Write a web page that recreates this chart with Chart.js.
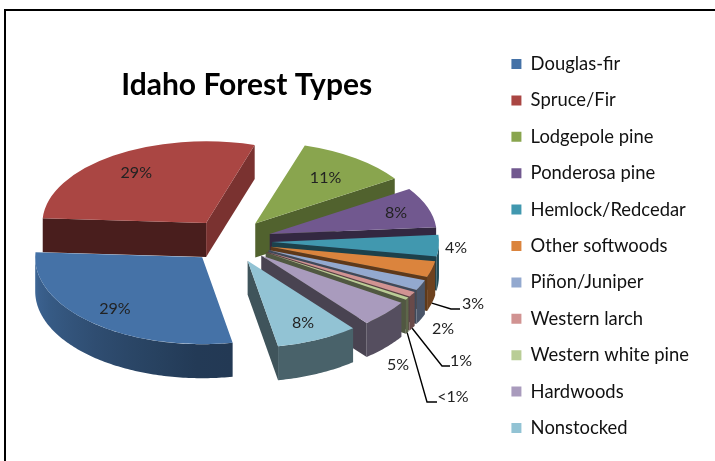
<!DOCTYPE html>
<html>
<head>
<meta charset="utf-8">
<title>Idaho Forest Types</title>
<script src="https://cdn.jsdelivr.net/npm/chart.js@4"></script>
<style>
    html, body { margin: 0; padding: 0; background: #fff; overflow: hidden; }
    #wrap { position: relative; width: 715px; height: 461px; }
    #frame { position: absolute; left: 4px; top: 9px; right: 0; bottom: 0; border-left: 2px solid #000; border-top: 2px solid #000; }
    canvas { position: absolute; left: 0; top: 0; }
</style>
</head>
<body>
<div id="wrap">
    <div id="frame"></div>
    <canvas id="pieChart" width="715" height="461"></canvas>
</div>
<script>
// Chart data
const forestTypes = ['Douglas-fir', 'Spruce/Fir', 'Lodgepole pine', 'Ponderosa pine', 'Hemlock/Redcedar', 'Other softwoods', 'Piñon/Juniper', 'Western larch', 'Western white pine', 'Hardwoods', 'Nonstocked'];
const percentages = [29, 29, 11, 8, 4, 3, 2, 1, 0.5, 5, 8];
const percentLabels = ['29%', '29%', '11%', '8%', '4%', '3%', '2%', '1%', '<1%', '5%', '8%'];
const sliceColors = ['#4572A7', '#AA4643', '#89A54E', '#71588F', '#4198AF', '#DB843D', '#93A9CF', '#D19392', '#B9CD96', '#A99BBD', '#92C3D4'];

// Look of the 3D pie
const view = { x: 230, y: 241, squash: 0.52, backSquash: 0.49, backWidth: 0.98, depth: 34, explode: 42 };
const labelFont = '16px Lato';

// Where each data label goes: f = fraction of radius inside the slice, or a fixed spot outside
const labelSpots = [
    { f: 0.79 }, { f: 0.75 }, { f: 0.70 }, { f: 0.80 },
    { x: 456, y: 248 }, { x: 473, y: 304 }, { x: 443, y: 329 }, { x: 461, y: 361 },
    { x: 453, y: 397 }, { x: 398, y: 365 }, { f: 0.79 }
];
// Leader lines: slice index, elbow, end
const leaders = [
    { slice: 5, elbow: [451, 309], end: [460, 309] },
    { slice: 7, elbow: [442, 366], end: [450, 366] },
    { slice: 8, elbow: [427, 402], end: [437, 402] }
];

function shadeColor(hex, k) {
    const n = parseInt(hex.slice(1), 16);
    const r = Math.round((n >> 16 & 255) * k);
    const g = Math.round((n >> 8 & 255) * k);
    const b = Math.round((n & 255) * k);
    return 'rgb(' + r + ',' + g + ',' + b + ')';
}

function midAngle(arc) {
    return (arc.startAngle + arc.endAngle) / 2;
}

// Slices at the back look a little smaller
function sliceScale(arc) {
    const mid = midAngle(arc);
    const back = Math.sin(mid) < 0;
    return { x: back && Math.cos(mid) < 0 ? view.backWidth : 1, y: back ? view.backSquash : view.squash };
}

function apexOf(arc) {
    const mid = midAngle(arc);
    return {
        x: view.x + Math.cos(mid) * view.explode,
        y: view.y + Math.sin(mid) * view.explode * view.squash
    };
}

function rimPoint(arc, angle, r) {
    const a = apexOf(arc);
    const s = sliceScale(arc);
    return { x: a.x + Math.cos(angle) * r * s.x, y: a.y + Math.sin(angle) * r * s.y };
}

function drawRadialWall(ctx, arc, angle, normalAngle, color) {
    if (Math.sin(normalAngle) <= 0) return;
    const a = apexOf(arc);
    const p = rimPoint(arc, angle, arc.outerRadius);
    ctx.fillStyle = shadeColor(color, 0.43 + 0.3 * Math.max(0, Math.cos(normalAngle)));
    ctx.beginPath();
    ctx.moveTo(a.x, a.y);
    ctx.lineTo(p.x, p.y);
    ctx.lineTo(p.x, p.y + view.depth);
    ctx.lineTo(a.x, a.y + view.depth);
    ctx.closePath();
    ctx.fill();
}

function rimShade(angle) {
    // clockwise degrees from the top
    const deg = (angle * 180 / Math.PI + 90 + 720) % 360;
    if (deg < 170) return 0.5;
    return 0.46 + 0.44 * Math.min(1, (deg - 170) / 100);
}

// Only the part of the rim on the viewer's side is drawn, shaded left to right
function drawRimRange(ctx, arc, from, to, color) {
    if (to <= from) return;
    const start = rimPoint(arc, from, arc.outerRadius);
    const stop = rimPoint(arc, to, arc.outerRadius);
    const gradient = ctx.createLinearGradient(start.x, 0, stop.x, 0);
    const span = stop.x - start.x;
    for (let i = 0; i <= 8; i++) {
        const t = from + (to - from) * i / 8;
        const p = rimPoint(arc, t, arc.outerRadius);
        const pos = span === 0 ? 0 : Math.min(1, Math.max(0, (p.x - start.x) / span));
        gradient.addColorStop(pos, shadeColor(color, rimShade(t)));
    }
    ctx.fillStyle = gradient;
    ctx.beginPath();
    const steps = Math.max(2, Math.ceil((to - from) * 60));
    for (let i = 0; i <= steps; i++) {
        const p = rimPoint(arc, from + (to - from) * i / steps, arc.outerRadius);
        if (i === 0) ctx.moveTo(p.x, p.y); else ctx.lineTo(p.x, p.y);
    }
    for (let i = steps; i >= 0; i--) {
        const p = rimPoint(arc, from + (to - from) * i / steps, arc.outerRadius);
        ctx.lineTo(p.x, p.y + view.depth);
    }
    ctx.closePath();
    ctx.fill();
}

function drawRimWall(ctx, arc, color) {
    const turn = Math.PI * 2;
    drawRimRange(ctx, arc, Math.max(arc.startAngle, 0), Math.min(arc.endAngle, Math.PI), color);
    drawRimRange(ctx, arc, Math.max(arc.startAngle, turn), Math.min(arc.endAngle, turn + Math.PI), color);
}

const pie3d = {
    id: 'pie3d',
    beforeDatasetDraw(chart, args) {
        const ctx = chart.ctx;
        const arcs = args.meta.data;
        // back slices first, those facing the viewer last
        const order = arcs.map((arc, i) => i).sort((a, b) => Math.sin(midAngle(arcs[a])) - Math.sin(midAngle(arcs[b])));
        order.forEach(i => {
            const arc = arcs[i];
            const color = sliceColors[i];
            drawRadialWall(ctx, arc, arc.startAngle, arc.startAngle - Math.PI / 2, color);
            drawRadialWall(ctx, arc, arc.endAngle, arc.endAngle + Math.PI / 2, color);
            drawRimWall(ctx, arc, color);
            const a = apexOf(arc);
            const s = sliceScale(arc);
            ctx.save();
            ctx.translate(a.x, a.y);
            ctx.scale(s.x, s.y);
            ctx.translate(-arc.x, -arc.y);
            arc.draw(ctx);
            ctx.restore();
        });
        return false;
    },
    afterDatasetsDraw(chart) {
        const ctx = chart.ctx;
        const arcs = chart.getDatasetMeta(0).data;

        ctx.save();
        ctx.strokeStyle = '#000';
        ctx.lineWidth = 1.4;
        leaders.forEach(l => {
            const arc = arcs[l.slice];
            const p = rimPoint(arc, midAngle(arc), arc.outerRadius);
            ctx.beginPath();
            ctx.moveTo(p.x, p.y + view.depth);
            ctx.lineTo(l.elbow[0], l.elbow[1]);
            ctx.lineTo(l.end[0], l.end[1]);
            ctx.stroke();
        });

        ctx.font = labelFont;
        ctx.fillStyle = '#222';
        ctx.textAlign = 'center';
        ctx.textBaseline = 'middle';
        percentLabels.forEach((text, i) => {
            const spot = labelSpots[i];
            if (spot.f) {
                const p = rimPoint(arcs[i], midAngle(arcs[i]), arcs[i].outerRadius * spot.f);
                ctx.fillText(text, p.x, p.y);
            } else {
                ctx.fillText(text, spot.x, spot.y);
            }
        });
        ctx.restore();
    }
};

new Chart(document.getElementById('pieChart'), {
    type: 'pie',
    data: {
        labels: forestTypes,
        datasets: [{
            data: percentages,
            backgroundColor: sliceColors,
            borderWidth: 0,
            hoverOffset: 0,
            radius: 167,
            clip: false
        }]
    },
    plugins: [pie3d],
    options: {
        responsive: false,
        animation: false,
        rotation: 169.5,
        layout: { padding: { top: 31, right: 16 } },
        plugins: {
            title: {
                display: true,
                text: 'Idaho Forest Types',
                position: 'top',
                fullSize: false,
                color: '#000',
                font: { family: 'Lato', size: 30, weight: 'bold' },
                padding: { top: 36, bottom: 10 }
            },
            legend: {
                position: 'right',
                align: 'center',
                labels: {
                    boxWidth: 10,
                    boxHeight: 10,
                    padding: 18,
                    color: '#111',
                    font: { family: 'Lato', size: 18.4 }
                }
            },
            tooltip: { enabled: false }
        }
    }
});
</script>
</body>
</html>
